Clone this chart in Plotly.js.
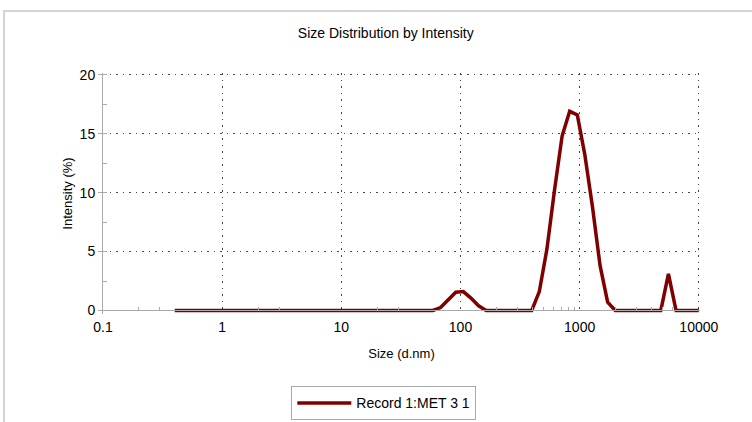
<!DOCTYPE html>
<html>
<head>
<meta charset="utf-8">
<script src="https://cdn.plot.ly/plotly-3.0.1.min.js"></script>
<style>
  html, body { margin: 0; padding: 0; background: #fff; }
  #wrap { position: relative; width: 752px; height: 422px; overflow: hidden; }
  #chart { width: 752px; height: 422px; }
  #frame { position: absolute; left: 3px; top: 10px; width: 800px; height: 500px;
           border-top: 2px solid #d4d4d4; border-left: 2px solid #d4d4d4; pointer-events: none; }
</style>
</head>
<body>
<div id="wrap">
  <div id="chart"></div>
  <div id="frame"></div>
</div>
<script>
// Size bins (d.nm)
const sizes = [0.4, 0.4632, 0.5365, 0.6213, 0.7195, 0.8332, 0.9649, 1.117, 1.294, 1.499,
  1.736, 2.010, 2.328, 2.696, 3.122, 3.615, 4.187, 4.849, 5.615, 6.503,
  7.531, 8.721, 10.10, 11.70, 13.54, 15.69, 18.17, 21.04, 24.36, 28.21,
  32.67, 37.84, 43.82, 50.75, 58.77, 68.06, 78.82, 91.28, 105.7, 122.4,
  141.8, 164.2, 190.1, 220.2, 255.0, 295.3, 342.0, 396.1, 458.7, 531.2,
  615.1, 712.4, 825.0, 955.4, 1106, 1281, 1484, 1718, 1990, 2305,
  2669, 3091, 3580, 4145, 4801, 5560, 6439, 7456, 8635, 10000];
// Intensity (%)
const intensity = [0, 0, 0, 0, 0, 0, 0, 0, 0, 0,
  0, 0, 0, 0, 0, 0, 0, 0, 0, 0,
  0, 0, 0, 0, 0, 0, 0, 0, 0, 0,
  0, 0, 0, 0, 0, 0.25, 0.85, 1.55, 1.6, 1.05,
  0.4, 0, 0, 0, 0, 0, 0, 0, 1.6, 5.2,
  10.2, 14.8, 16.9, 16.6, 13.2, 8.8, 3.8, 0.7, 0, 0,
  0, 0, 0, 0, 0, 3.1, 0, 0, 0, 0];
const xTickVals = [0.1, 1, 10, 100, 1000, 10000];
const xTickText = ['0.1', '1', '10', '100', '1000', '10000'];
const yTickVals = [0, 5, 10, 15, 20];
const seriesName = 'Record 1:MET 3 1';

const font = 'Liberation Sans, Arial, sans-serif';
const yLow = -0.3, yHigh = 20.15;

const trace = {
  x: sizes, y: intensity, type: 'scatter', mode: 'lines', name: seriesName,
  line: { color: '#800000', width: 3.5 }
};

const layout = {
  width: 752, height: 422,
  margin: { l: 103, r: 52, t: 73, b: 108, autoexpand: false },
  paper_bgcolor: '#fff', plot_bgcolor: '#fff',
  font: { family: font, size: 13, color: '#000' },
  title: { text: 'Size Distribution by Intensity', xref: 'container', x: 0.513, y: 0.922,
           yanchor: 'middle', font: { family: font, size: 14, color: '#000' } },
  showlegend: true,
  legend: { x: 0.3154, xanchor: 'left', y: -0.30, yanchor: 'top', orientation: 'h',
            itemwidth: 54,
            bordercolor: '#aaa', borderwidth: 1, bgcolor: '#fff',
            font: { family: font, size: 14, color: '#000' } },
  xaxis: {
    type: 'log', range: [-1, 4.01], anchor: 'free', position: (0 - yLow) / (yHigh - yLow),
    tickvals: xTickVals, ticktext: xTickText, ticklabelstandoff: 4,
    tickfont: { family: font, size: 14, color: '#000' },
    showgrid: true, gridcolor: '#444', griddash: '1.5px,5px', gridwidth: 1,
    showline: true, linecolor: '#aaa', linewidth: 1,
    ticks: '', zeroline: false,
    minor: { ticks: 'inside', ticklen: 3, tickcolor: '#aaa', showgrid: false,
             tickvals: [0.2, 0.3, 2, 3, 20, 30, 200, 300, 400, 500, 600, 700, 800, 900, 2000, 3000, 4000, 5000, 6000] },
    title: { text: 'Size (d.nm)', standoff: 14, font: { family: font, size: 13, color: '#000' } }
  },
  yaxis: {
    range: [yLow, yHigh], tickvals: yTickVals,
    tickfont: { family: font, size: 14, color: '#000' },
    showgrid: true, gridcolor: '#444', griddash: '1.5px,5px', gridwidth: 1,
    showline: true, linecolor: '#aaa', linewidth: 1,
    ticks: 'outside', ticklen: 4, tickcolor: '#aaa',
    minor: { dtick: 2.5, ticks: 'inside', ticklen: 4, tickcolor: '#aaa', showgrid: false },
    zeroline: true, zerolinecolor: '#aaa', zerolinewidth: 1,
    title: { text: 'Intensity (%)', standoff: 4, font: { family: font, size: 13, color: '#000' } }
  }
};

Plotly.newPlot('chart', [trace], layout, { staticPlot: true, displayModeBar: false });
</script>
</body>
</html>
